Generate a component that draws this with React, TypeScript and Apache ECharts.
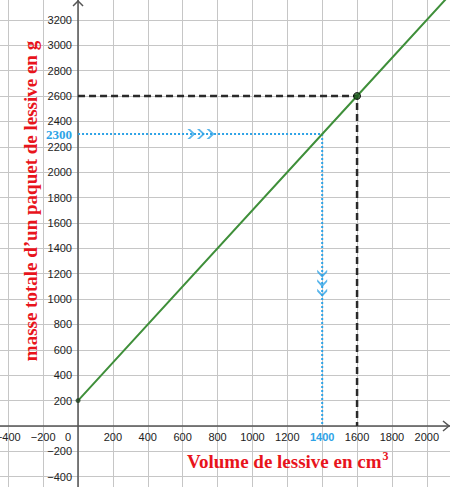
import React, { useEffect, useRef } from 'react';
import * as echarts from 'echarts';

// straight line y = mass in g, x = volume in cm3
const lineX = [0, 1600, 2140];
const lineY = [200, 2600, 3410];

// reading for 1600 cm3 (black dashed)
const readBlackX = [0, 1600, 1600];
const readBlackY = [2600, 2600, 0];

// reading for 2300 g (blue dotted)
const readBlueX = [0, 1400, 1400];
const readBlueY = [2300, 2300, 0];

// chevrons on the blue path
const arrowRightX = [650, 705, 760];
const arrowRightY = [2300, 2300, 2300];
const arrowDownX = [1400, 1400, 1400];
const arrowDownY = [1200, 1125, 1050];

const xRange = [-600, 2200];
const yRange = [-600, 3400];

const BLUE = '#2ea3e6';
const RED = '#e8141c';
const GREEN = '#3f8f3a';

const zip = (xs: number[], ys: number[]) => xs.map((x, i) => [x, ys[i]]);

const chevron = 'path://M0,0 L5,5 L0,10 L2.5,10 L7.5,5 L2.5,0 Z';

const minus = (v: number) => String(v).replace('-', '\u2212');

// pixel layout of the plotting area (origin at 78, 426)
const GRID = { left: -26.6, right: -11.7, top: -5.5, bottom: -15.1 };
const X_OFFSET = -76.1; // x axis drawn on y = 0
const Y_OFFSET = -104.6; // y axis drawn on x = 0

export default function App() {
  const chartRef = useRef<HTMLDivElement>(null);

  useEffect(() => {
    document.body.style.margin = '0';
    if (!chartRef.current) return;
    const chart = echarts.init(chartRef.current, null, { renderer: 'svg' });

    const blueData: any[] = zip(readBlueX, readBlueY).map((p, i) => {
      if (i === 0) {
        return {
          value: p,
          symbolSize: 0,
          label: {
            show: true,
            position: 'left',
            distance: 6,
            formatter: '2300',
            color: BLUE,
            fontFamily: 'Liberation Serif',
            fontSize: 13,
            fontWeight: 'bold'
          }
        };
      }
      return { value: p, symbolSize: 0 };
    });

    const option: any = {
      animation: false,
      backgroundColor: '#ffffff',
      grid: { ...GRID, containLabel: false, outerBoundsMode: 'none' },
      xAxis: {
        type: 'value',
        min: xRange[0],
        max: xRange[1],
        interval: 200,
        position: 'bottom',
        offset: X_OFFSET,
        axisLine: { onZero: false, lineStyle: { color: '#555', width: 1.5 } },
        axisTick: { show: false },
        splitLine: { lineStyle: { color: '#c6c6c6', width: 1 } },
        axisLabel: {
          margin: 5,
          fontFamily: 'Liberation Sans',
          fontSize: 11,
          color: '#222',
          showMinLabel: false,
          showMaxLabel: false,
          formatter: (v: number) => {
            if (v === 0) return '{o|0}';
            if (v === 1400) return '{b|1400}';
            return minus(v);
          },
          rich: {
            o: { padding: [0, 20, 0, 0], fontFamily: 'Liberation Sans', fontSize: 11, color: '#222' },
            b: { color: BLUE, fontFamily: 'Liberation Sans', fontSize: 11, fontWeight: 'bold' }
          }
        }
      },
      yAxis: {
        type: 'value',
        min: yRange[0],
        max: yRange[1],
        interval: 200,
        position: 'left',
        offset: Y_OFFSET,
        axisLine: { onZero: false, lineStyle: { color: '#555', width: 1.5 } },
        axisTick: { show: false },
        splitLine: { lineStyle: { color: '#c6c6c6', width: 1 } },
        axisLabel: {
          margin: 6,
          fontFamily: 'Liberation Sans',
          fontSize: 11,
          color: '#222',
          showMinLabel: false,
          showMaxLabel: false,
          formatter: (v: number) => (v === 0 ? '' : minus(v))
        }
      },
      series: [
        {
          type: 'line',
          data: zip(readBlackX, readBlackY),
          showSymbol: false,
          lineStyle: { color: '#2a2a2a', width: 2.5, type: [7, 4] },
          z: 3
        },
        {
          type: 'line',
          data: blueData,
          showSymbol: true,
          symbol: 'circle',
          lineStyle: { color: BLUE, width: 2, type: [2, 2] },
          itemStyle: { color: BLUE },
          z: 3
        },
        {
          type: 'line',
          data: zip(lineX, lineY),
          showSymbol: false,
          lineStyle: { color: GREEN, width: 2 },
          z: 4
        },
        {
          type: 'scatter',
          data: [zip(lineX, lineY)[1]],
          symbolSize: 7,
          itemStyle: { color: '#1f5a1f', borderColor: '#000', borderWidth: 1 },
          z: 5
        },
        {
          type: 'scatter',
          data: [zip(lineX, lineY)[0]],
          symbolSize: 5,
          itemStyle: { color: '#1f3f1f' },
          z: 5
        },
        {
          type: 'scatter',
          data: zip(arrowRightX, arrowRightY),
          symbol: chevron,
          symbolSize: [8, 10],
          itemStyle: { color: BLUE },
          z: 5
        },
        {
          type: 'scatter',
          data: zip(arrowDownX, arrowDownY),
          symbol: chevron,
          symbolSize: [8, 10],
          symbolRotate: -90,
          itemStyle: { color: BLUE },
          z: 5
        }
      ]
    };

    chart.setOption(option);

    // axis arrows and titles
    const [ox, oy] = chart.convertToPixel({ gridIndex: 0 }, [0, 0]) as number[];
    const w = chart.getWidth();
    chart.setOption({
      graphic: [
        {
          type: 'polyline',
          shape: { points: [[w - 7, oy - 5], [w - 1, oy], [w - 7, oy + 5]] },
          style: { stroke: '#555', lineWidth: 1.5, fill: 'none' },
          z: 10
        },
        {
          type: 'polyline',
          shape: { points: [[ox - 5, 6], [ox, 1], [ox + 5, 6]] },
          style: { stroke: '#555', lineWidth: 1.5, fill: 'none' },
          z: 10
        },
        {
          type: 'text',
          x: 30,
          y: 201,
          rotation: Math.PI / 2,
          style: {
            text: 'masse totale d\u2019un paquet de lessive en g',
            fontFamily: 'Liberation Serif',
            fontSize: 19,
            fontWeight: 'bold',
            fill: RED,
            align: 'center',
            verticalAlign: 'middle'
          },
          z: 10
        },
        {
          type: 'text',
          x: 187,
          y: 461,
          style: {
            text: 'Volume de lessive en cm{sup|3}',
            fontFamily: 'Liberation Serif',
            fontSize: 19,
            fontWeight: 'bold',
            fill: RED,
            align: 'left',
            verticalAlign: 'middle',
            rich: {
              sup: {
                fontFamily: 'Liberation Serif',
                fontSize: 12,
                fontWeight: 'bold',
                fill: RED,
                padding: [0, 0, 10, 1]
              }
            }
          },
          z: 10
        }
      ]
    });

    return () => {
      chart.dispose();
    };
  }, []);

  return <div ref={chartRef} style={{ width: '450px', height: '487px' }} />;
}
